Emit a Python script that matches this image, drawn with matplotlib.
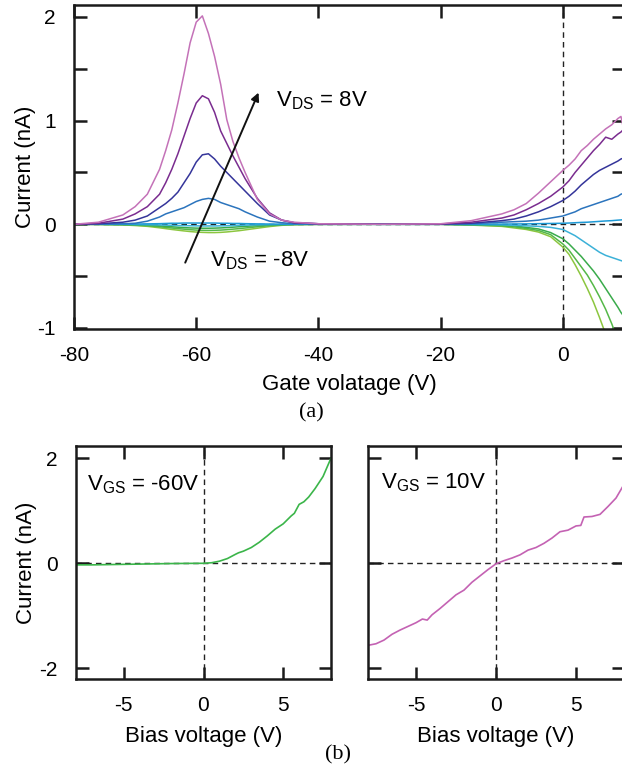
import matplotlib
matplotlib.use("Agg")
import matplotlib.pyplot as plt
from matplotlib.ticker import MultipleLocator

plt.rcParams["font.family"] = ["Liberation Sans", "DejaVu Sans"]
plt.rcParams["font.size"] = 15
plt.rcParams["axes.unicode_minus"] = False

# --- (a) gate sweep, one curve per drain-source bias ---
vg = [-80, -76, -72, -70, -68, -66, -65, -64, -63, -62, -61, -60, -59, -58, -57,
      -56, -55, -54, -53, -52, -50, -48, -46, -44, -40, -30, -20, -15, -10, -8,
      -6, -4, -2, 0, 1, 2, 3, 4, 5, 6, 7, 8, 9, 9.5, 10]

i_p8 = [0.0, 0.02, 0.09, 0.17, 0.29, 0.53, 0.71, 0.91, 1.17, 1.45, 1.75, 1.95, 2.01, 1.84, 1.62,
        1.35, 1.01, 0.8, 0.64, 0.5, 0.24, 0.1, 0.04, 0.02, 0.005, 0.0, 0.005, 0.035, 0.1, 0.14,
        0.2, 0.3, 0.41, 0.52, 0.57, 0.63, 0.71, 0.76, 0.82, 0.87, 0.92, 0.96, 1.02, 1.04, 0.9]
i_p6 = [0.0, 0.01, 0.05, 0.1, 0.17, 0.29, 0.4, 0.53, 0.68, 0.85, 1.02, 1.17, 1.24, 1.21, 1.08,
        0.9, 0.78, 0.66, 0.55, 0.44, 0.25, 0.11, 0.04, 0.015, 0.005, 0.0, 0.003, 0.02, 0.06, 0.09,
        0.14, 0.2, 0.27, 0.36, 0.42, 0.5, 0.57, 0.64, 0.71, 0.77, 0.84, 0.82, 0.87, 0.89, 0.92]
i_p4 = [0.0, 0.005, 0.02, 0.04, 0.08, 0.16, 0.2, 0.25, 0.31, 0.4, 0.49, 0.6, 0.67, 0.68, 0.63,
        0.56, 0.5, 0.44, 0.38, 0.32, 0.2, 0.09, 0.04, 0.015, 0.005, 0.0, 0.002, 0.01, 0.035, 0.05,
        0.08, 0.12, 0.17, 0.23, 0.27, 0.32, 0.38, 0.43, 0.48, 0.52, 0.55, 0.58, 0.61, 0.63, 0.64]
i_p2 = [0.0, 0.002, 0.005, 0.01, 0.03, 0.07, 0.1, 0.12, 0.14, 0.16, 0.19, 0.22, 0.24, 0.25, 0.24,
        0.21, 0.19, 0.17, 0.15, 0.12, 0.07, 0.03, 0.015, 0.005, 0.0, 0.0, 0.0, 0.005, 0.02, 0.025,
        0.03, 0.04, 0.06, 0.08, 0.1, 0.12, 0.15, 0.17, 0.19, 0.21, 0.23, 0.25, 0.27, 0.29, 0.3]
i_0 = [0.0, 0.0, 0.0, 0.002, 0.004, 0.006, 0.008, 0.01, 0.01, 0.012, 0.012, 0.012, 0.012, 0.012, 0.012,
       0.01, 0.01, 0.008, 0.008, 0.006, 0.004, 0.002, 0.0, 0.0, 0.0, 0.0, 0.0, 0.0, 0.002, 0.003,
       0.004, 0.006, 0.008, 0.01, 0.012, 0.015, 0.018, 0.02, 0.024, 0.028, 0.032, 0.035, 0.04, 0.042, 0.045]
i_m2 = [0.0, 0.0, 0.0, -0.002, -0.004, -0.006, -0.008, -0.01, -0.012, -0.013, -0.014, -0.015, -0.016, -0.016, -0.016,
        -0.015, -0.014, -0.012, -0.01, -0.008, -0.005, -0.003, -0.001, 0.0, 0.0, 0.0, 0.0, -0.002, -0.005, -0.01,
        -0.015, -0.02, -0.03, -0.05, -0.08, -0.11, -0.15, -0.19, -0.23, -0.27, -0.3, -0.32, -0.34, -0.35, -0.36]
i_m4 = [0.0, 0.0, -0.002, -0.004, -0.008, -0.015, -0.02, -0.024, -0.028, -0.032, -0.035, -0.037, -0.038, -0.038, -0.037,
        -0.035, -0.032, -0.028, -0.024, -0.02, -0.013, -0.007, -0.003, -0.001, 0.0, 0.0, 0.0, -0.004, -0.01, -0.015,
        -0.03, -0.045, -0.08, -0.14, -0.19, -0.25, -0.31, -0.38, -0.45, -0.53, -0.62, -0.71, -0.8, -0.85, -0.89]
i_m6 = [0.0, -0.001, -0.004, -0.008, -0.014, -0.024, -0.03, -0.036, -0.042, -0.047, -0.052, -0.056, -0.058, -0.059, -0.058,
        -0.056, -0.052, -0.047, -0.042, -0.036, -0.024, -0.013, -0.006, -0.002, 0.0, 0.0, 0.0, -0.006, -0.015, -0.025,
        -0.04, -0.06, -0.1, -0.19, -0.25, -0.33, -0.41, -0.49, -0.59, -0.7, -0.82, -0.96, -1.12, -1.2, -1.3]
i_m8 = [0.0, -0.002, -0.006, -0.012, -0.02, -0.034, -0.042, -0.05, -0.057, -0.064, -0.07, -0.075, -0.078, -0.08, -0.08,
        -0.078, -0.074, -0.068, -0.062, -0.054, -0.038, -0.022, -0.01, -0.004, -0.001, 0.0, 0.0, -0.008, -0.02, -0.035,
        -0.05, -0.075, -0.12, -0.22, -0.29, -0.39, -0.5, -0.62, -0.75, -0.9, -1.06, -1.25, -1.45, -1.55, -1.65]

sweeps = [i_m8, i_m6, i_m4, i_m2, i_0, i_p2, i_p4, i_p6, i_p8]
sweep_colors = ["#8cc63f", "#55b848", "#3aab4b", "#3cb1d8", "#1e9ad6",
                "#2b74bd", "#35359a", "#7a2c8f", "#c472b8"]

# --- (b) bias sweeps at fixed gate ---
vb_left = [-8, -7, -6, -5, -4, -3, -2, -1, 0, 0.5, 1, 1.5, 2, 2.2, 2.5, 3, 3.5, 4,
           4.5, 5, 5.5, 5.7, 6, 6.3, 6.6, 7, 7.5, 8]
i_left = [-0.03, -0.03, -0.025, -0.02, -0.015, -0.01, -0.005, -0.002, 0.0, 0.01, 0.04, 0.09, 0.17, 0.2, 0.23, 0.3, 0.4, 0.52,
          0.65, 0.75, 0.9, 0.95, 1.12, 1.17, 1.26, 1.42, 1.65, 2.0]

vb_right = [-8, -7.5, -7, -6.5, -6, -5.5, -5, -4.6, -4.3, -4, -3.5, -3, -2.5, -2, -1.5,
            -1, -0.5, 0, 0.5, 1, 1.5, 2, 2.5, 3, 3.5, 4, 4.5, 5, 5.3, 5.5, 6, 6.5, 7, 7.5, 8]
i_right = [-1.56, -1.53, -1.46, -1.35, -1.27, -1.2, -1.13, -1.06, -1.08, -0.98, -0.86, -0.73, -0.6, -0.51, -0.36,
           -0.24, -0.12, -0.01, 0.05, 0.1, 0.16, 0.25, 0.3, 0.38, 0.48, 0.6, 0.63, 0.71, 0.72, 0.88, 0.89, 0.93, 1.08, 1.24, 1.5]

W, H = 622, 770
fig = plt.figure(figsize=(W / 100, H / 100), dpi=100)


def px_axes(x0, y0, x1, y1):
    return fig.add_axes([x0 / W, 1 - y1 / H, (x1 - x0) / W, (y1 - y0) / H])


def style(ax):
    for s in ax.spines.values():
        s.set_linewidth(1.8)
        s.set_color("#1a1a1a")
    ax.tick_params(which="both", direction="in", top=True, right=True,
                   length=9, width=1.8, color="#1a1a1a", labelsize=15)
    ax.tick_params(axis="x", pad=12)
    ax.tick_params(axis="y", pad=13)


def dashed_axes(ax):
    ax.axhline(0, color="#222222", lw=1.0, ls=(0, (4, 3)), zorder=1)
    ax.axvline(0, color="#222222", lw=1.0, ls=(0, (4, 3)), zorder=1)


# (a)
ax = px_axes(74, 5, 624, 329)
dashed_axes(ax)
for cur, col in zip(sweeps, sweep_colors):
    ax.plot(vg, cur, color=col, lw=1.1, zorder=2)
ax.set_xlim(-80, 10)
ax.set_ylim(-1.01, 2.115)
ax.set_xticks([-80, -60, -40, -20, 0])
ax.set_yticks([-1, 0, 1, 2])
ax.yaxis.set_minor_locator(MultipleLocator(0.5))
style(ax)
ax.set_xlabel("Gate volatage (V)", fontsize=16, labelpad=7)
ax.set_ylabel("Current (nA)", fontsize=16, labelpad=1)
ax.annotate("", xy=(-49.8, 1.27), xytext=(-61.8, -0.37),
            arrowprops=dict(arrowstyle="-|>", color="#111111", lw=1.4,
                            mutation_scale=12, shrinkA=0, shrinkB=0), zorder=5)
ax.text(-47.0, 1.19, r"V$_{\mathregular{DS}}$ = 8V", fontsize=16, va="center", ha="left")
ax.text(-57.7, -0.35, r"V$_{\mathregular{DS}}$ = -8V", fontsize=16, va="center", ha="left")

fig.text(311 / W, 1 - 413 / H, "(a)", family=["Liberation Serif", "DejaVu Serif"],
         fontsize=16, ha="center", va="center")

# (b) left
axl = px_axes(76, 446, 331, 679)
dashed_axes(axl)
axl.plot(vb_left, i_left, color="#3bb54a", lw=1.2, zorder=2)
axl.set_xlim(-8, 8)
axl.set_ylim(-2.2, 2.23)
axl.set_xticks([-5, 0, 5])
axl.set_yticks([-2, 0, 2])
style(axl)
axl.set_xlabel("Bias voltage (V)", fontsize=16, labelpad=8)
axl.set_ylabel("Current (nA)", fontsize=16, labelpad=2)
axl.text(-7.3, 1.49, r"V$_{\mathregular{GS}}$ = -60V", fontsize=16, va="center", ha="left")

# (b) right
axr = px_axes(368, 446, 624, 679)
dashed_axes(axr)
axr.plot(vb_right, i_right, color="#c462b3", lw=1.2, zorder=2)
axr.set_xlim(-8, 8)
axr.set_ylim(-2.2, 2.23)
axr.set_xticks([-5, 0, 5])
axr.set_yticks([-2, 0, 2])
style(axr)
axr.tick_params(labelleft=False)
axr.set_xlabel("Bias voltage (V)", fontsize=16, labelpad=8)
axr.text(-7.2, 1.53, r"V$_{\mathregular{GS}}$ = 10V", fontsize=16, va="center", ha="left")

fig.text(338 / W, 1 - 755 / H, "(b)", family=["Liberation Serif", "DejaVu Serif"],
         fontsize=16, ha="center", va="center")

fig.savefig("out.png", dpi=100)
